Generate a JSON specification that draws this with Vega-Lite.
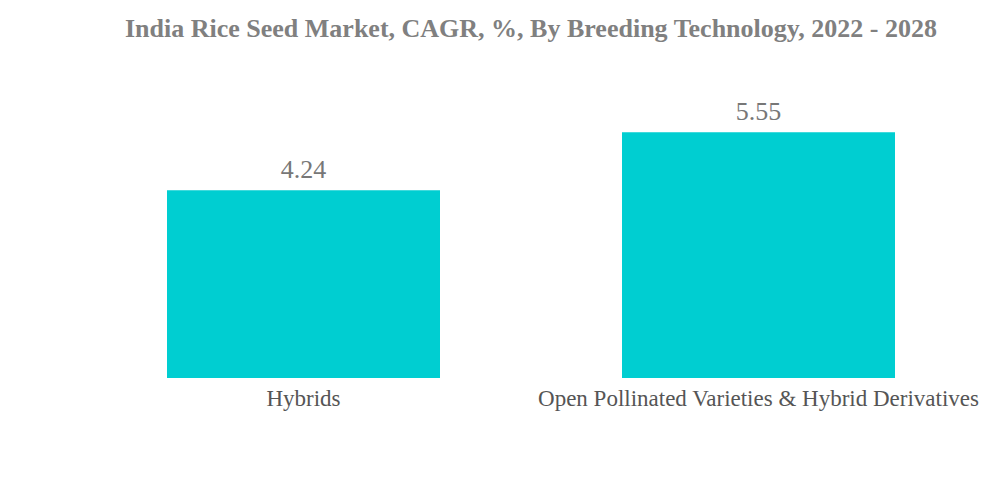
{
  "$schema": "https://vega.github.io/schema/vega-lite/v6.json",
  "autosize": {"type": "none"},
  "padding": {"left": 76, "top": 68, "right": 14, "bottom": 105},
  "width": 910,
  "height": 310,
  "background": "white",
  "title": {
    "text": "India Rice Seed Market, CAGR, %, By Breeding Technology, 2022 - 2028",
    "anchor": "middle",
    "frame": "group",
    "font": "Liberation Serif",
    "fontSize": 26,
    "fontWeight": "bold",
    "color": "#808080",
    "offset": 26
  },
  "data": {
    "values": [
      {"technology": "Hybrids", "cagr": 4.24},
      {"technology": "Open Pollinated Varieties & Hybrid Derivatives", "cagr": 5.55}
    ]
  },
  "encoding": {
    "x": {
      "field": "technology",
      "type": "nominal",
      "sort": null,
      "scale": {"paddingInner": 0.4, "paddingOuter": 0.2},
      "axis": {
        "title": null,
        "labelAngle": 0,
        "domain": false,
        "ticks": false,
        "labelFont": "Liberation Serif",
        "labelFontSize": 23,
        "labelColor": "#555555",
        "labelPadding": 9,
        "labelLimit": 1000
      }
    },
    "y": {
      "field": "cagr",
      "type": "quantitative",
      "scale": {"domain": [0, 7], "nice": false},
      "axis": null
    }
  },
  "layer": [
    {"mark": {"type": "bar", "color": "#00CED1"}},
    {
      "mark": {
        "type": "text",
        "baseline": "bottom",
        "dy": -7,
        "font": "Liberation Serif",
        "fontSize": 26,
        "color": "#777777"
      },
      "encoding": {"text": {"field": "cagr", "type": "quantitative", "format": ".2f"}}
    }
  ],
  "config": {"view": {"stroke": null}, "axis": {"grid": false}}
}
